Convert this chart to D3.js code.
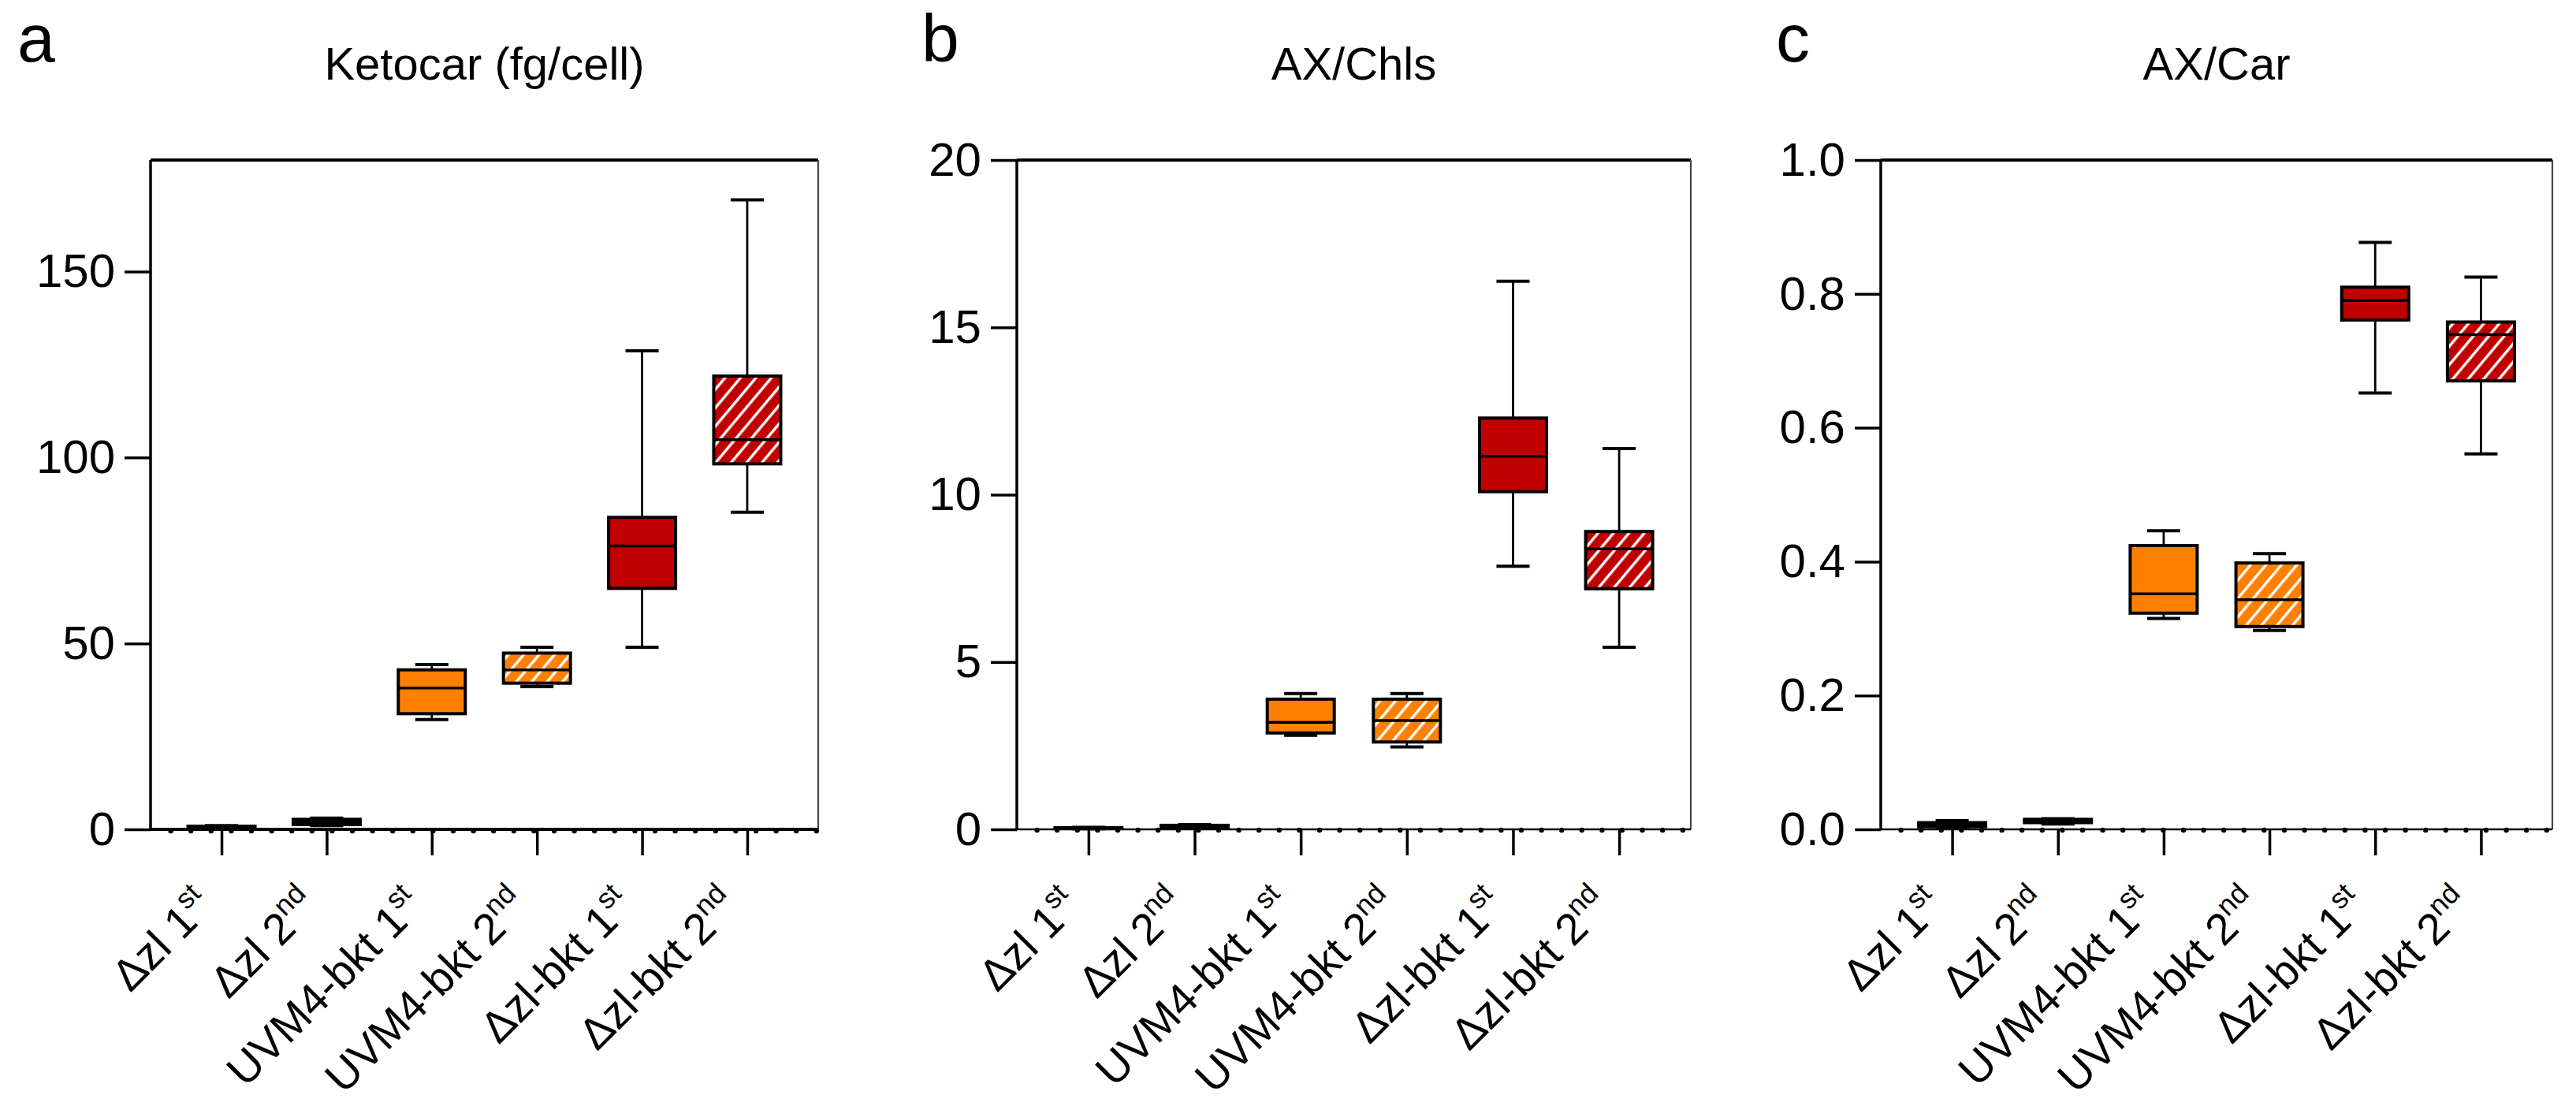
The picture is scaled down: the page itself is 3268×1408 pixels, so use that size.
<!DOCTYPE html>
<html>
<head>
<meta charset="utf-8">
<script src="https://cdn.jsdelivr.net/npm/d3@7"></script>
<style>
  html, body { margin: 0; padding: 0; background: #fff; }
  svg { display: block; }
  text { font-family: "Liberation Sans", Arial, sans-serif; fill: #000; }
</style>
</head>
<body>
<svg id="chart" width="3268" height="1408"></svg>
<script>
// ---------------- data ----------------
const catBase = ["\u0394zl 1", "\u0394zl 2", "UVM4-bkt 1", "UVM4-bkt 2", "\u0394zl-bkt 1", "\u0394zl-bkt 2"];
const catSup  = ["st", "nd", "st", "nd", "st", "nd"];
const catFill = ["#000000", "#000000", "#FF8000", "#FF8000", "#C00000", "#C00000"];
const catHatch = [false, false, false, true, false, true];

const panelLetters = ["a", "b", "c"];
const panelTitles = ["Ketocar (fg/cell)", "AX/Chls", "AX/Car"];

// Panel a: Ketocar (fg/cell)
const ketocarMin = [0.4, 1.0, 29.5, 38.4, 49.0, 85.3];
const ketocarQ1  = [0.6, 1.3, 31.1, 39.3, 64.8, 98.3];
const ketocarMed = [0.7, 2.0, 38.0, 42.9, 76.2, 104.8];
const ketocarQ3  = [0.85, 2.7, 42.9, 47.4, 83.9, 121.9];
const ketocarMax = [1.0, 3.0, 44.3, 49.0, 128.7, 169.3];
const ketocarTicks = [0, 50, 100, 150];
const ketocarDomain = [0, 180];

// Panel b: AX/Chls
const axChlsMin = [0.02, 0.04, 2.81, 2.46, 7.86, 5.44];
const axChlsQ1  = [0.03, 0.06, 2.88, 2.61, 10.09, 7.19];
const axChlsMed = [0.04, 0.09, 3.20, 3.25, 11.15, 8.38];
const axChlsQ3  = [0.05, 0.12, 3.89, 3.89, 12.29, 8.90];
const axChlsMax = [0.06, 0.14, 4.06, 4.06, 16.38, 11.38];
const axChlsTicks = [0, 5, 10, 15, 20];
const axChlsDomain = [0, 20];

// Panel c: AX/Car
const axCarMin = [0.003, 0.008, 0.315, 0.297, 0.652, 0.561];
const axCarQ1  = [0.004, 0.010, 0.323, 0.303, 0.761, 0.670];
const axCarMed = [0.007, 0.012, 0.352, 0.343, 0.790, 0.739];
const axCarQ3  = [0.010, 0.015, 0.424, 0.398, 0.810, 0.758];
const axCarMax = [0.013, 0.016, 0.446, 0.412, 0.877, 0.825];
const axCarTicks = [0, 0.2, 0.4, 0.6, 0.8, 1.0];
const axCarDomain = [0, 1];

// ---------------- layout ----------------
const svg = d3.select("#chart");
const defs = svg.append("defs");
["#FF8000", "#C00000"].forEach((c, i) => {
  const p = defs.append("pattern")
    .attr("id", "hatch" + i)
    .attr("patternUnits", "userSpaceOnUse")
    .attr("width", 15).attr("height", 15)
    .attr("patternTransform", "rotate(40)");
  p.append("rect").attr("width", 15).attr("height", 15).attr("fill", c);
  p.append("rect").attr("x", 6).attr("width", 3.4).attr("height", 15).attr("fill", "#fff");
});

const panels = [
  { left: 191, right: 1038, min: ketocarMin, q1: ketocarQ1, med: ketocarMed, q3: ketocarQ3, max: ketocarMax, ticks: ketocarTicks, domain: ketocarDomain, fmt: d3.format("d"), letterX: 22 },
  { left: 1290, right: 2145, min: axChlsMin, q1: axChlsQ1, med: axChlsMed, q3: axChlsQ3, max: axChlsMax, ticks: axChlsTicks, domain: axChlsDomain, fmt: d3.format("d"), letterX: 1169 },
  { left: 2386, right: 3238, min: axCarMin, q1: axCarQ1, med: axCarMed, q3: axCarQ3, max: axCarMax, ticks: axCarTicks, domain: axCarDomain, fmt: d3.format(".1f"), letterX: 2253 }
];
const plotTop = 203, plotBottom = 1052;
const boxW = 85, capW = 42, tickLen = 33;

panels.forEach((P, pi) => {
  const g = svg.append("g");
  const x = d3.scalePoint().domain(d3.range(catBase.length)).range([P.left, P.right]).padding(0.675);
  const y = d3.scaleLinear().domain(P.domain).range([plotBottom, plotTop]);

  // panel letter & title
  g.append("text").attr("x", P.letterX).attr("y", 78).attr("font-size", 86).text(panelLetters[pi]);
  g.append("text").attr("x", (P.left + P.right) / 2).attr("y", 101)
    .attr("text-anchor", "middle").attr("font-size", 58).text(panelTitles[pi]);

  // frame: top thick, right thin
  g.append("line").attr("x1", P.left).attr("x2", P.right).attr("y1", y(P.domain[1])).attr("y2", y(P.domain[1]))
    .attr("stroke", "#000").attr("stroke-width", 4);
  g.append("line").attr("x1", P.right).attr("x2", P.right).attr("y1", y(P.domain[1])).attr("y2", plotBottom)
    .attr("stroke", "#444").attr("stroke-width", 2.2);

  // y axis
  const yAxis = d3.axisLeft(y).tickValues(P.ticks).tickFormat(P.fmt).tickSize(tickLen).tickPadding(12);
  const ya = g.append("g").attr("transform", `translate(${P.left},0)`).call(yAxis);
  ya.select(".domain").attr("stroke", "#000").attr("stroke-width", 3.5).attr("d", `M0,${y(P.domain[1])}V${plotBottom}`);
  ya.selectAll(".tick line").attr("stroke", "#000").attr("stroke-width", 3.5);
  ya.selectAll(".tick text").attr("font-size", 60).attr("font-family", '"Liberation Sans", Arial, sans-serif').attr("fill", "#000");

  // x axis
  const xAxis = d3.axisBottom(x).tickSize(tickLen).tickFormat("");
  const xa = g.append("g").attr("transform", `translate(0,${plotBottom})`).call(xAxis);
  xa.select(".domain").attr("stroke", "#000").attr("stroke-width", pi === 0 ? 4 : 2.4)
    .attr("d", `M${P.left},0H${P.right}`);
  xa.selectAll(".tick line").attr("stroke", "#000").attr("stroke-width", 3.5);

  // dotted baseline
  const dots = d3.range(P.left + 25.6, P.right - 2, 25.6);
  g.append("g").selectAll("circle").data(dots).join("circle")
    .attr("cx", d => d).attr("cy", plotBottom + (pi === 0 ? 2 : 1)).attr("r", 3.2).attr("fill", "#000");

  // x labels
  const lab = g.append("g").selectAll("text").data(d3.range(catBase.length)).join("text")
    .attr("transform", i => `translate(${x(i) - 8},${plotBottom + 100}) rotate(-45)`)
    .attr("text-anchor", "end").attr("font-size", 56);
  lab.append("tspan").text(i => catBase[i]);
  lab.append("tspan").attr("font-size", 36).attr("dy", "-0.65em").text(i => catSup[i]);

  // boxes
  const bx = g.append("g").selectAll("g").data(d3.range(catBase.length)).join("g");
  bx.append("line").attr("x1", i => x(i)).attr("x2", i => x(i))
    .attr("y1", i => y(P.max[i])).attr("y2", i => y(P.q3[i])).attr("stroke", "#000").attr("stroke-width", 2.8);
  bx.append("line").attr("x1", i => x(i)).attr("x2", i => x(i))
    .attr("y1", i => y(P.q1[i])).attr("y2", i => y(P.min[i])).attr("stroke", "#000").attr("stroke-width", 2.8);
  bx.append("line").attr("x1", i => x(i) - capW / 2).attr("x2", i => x(i) + capW / 2)
    .attr("y1", i => y(P.max[i])).attr("y2", i => y(P.max[i])).attr("stroke", "#000").attr("stroke-width", 4);
  bx.append("line").attr("x1", i => x(i) - capW / 2).attr("x2", i => x(i) + capW / 2)
    .attr("y1", i => y(P.min[i])).attr("y2", i => y(P.min[i])).attr("stroke", "#000").attr("stroke-width", 4);
  bx.append("rect")
    .attr("x", i => x(i) - boxW / 2).attr("width", boxW)
    .attr("y", i => y(P.q3[i])).attr("height", i => Math.max(0.5, y(P.q1[i]) - y(P.q3[i])))
    .attr("fill", i => catHatch[i] ? (catFill[i] === "#FF8000" ? "url(#hatch0)" : "url(#hatch1)") : catFill[i])
    .attr("stroke", "#000").attr("stroke-width", 4);
  bx.append("line").attr("x1", i => x(i) - boxW / 2).attr("x2", i => x(i) + boxW / 2)
    .attr("y1", i => y(P.med[i])).attr("y2", i => y(P.med[i])).attr("stroke", "#000").attr("stroke-width", 3.5);
});
</script>
</body>
</html>
